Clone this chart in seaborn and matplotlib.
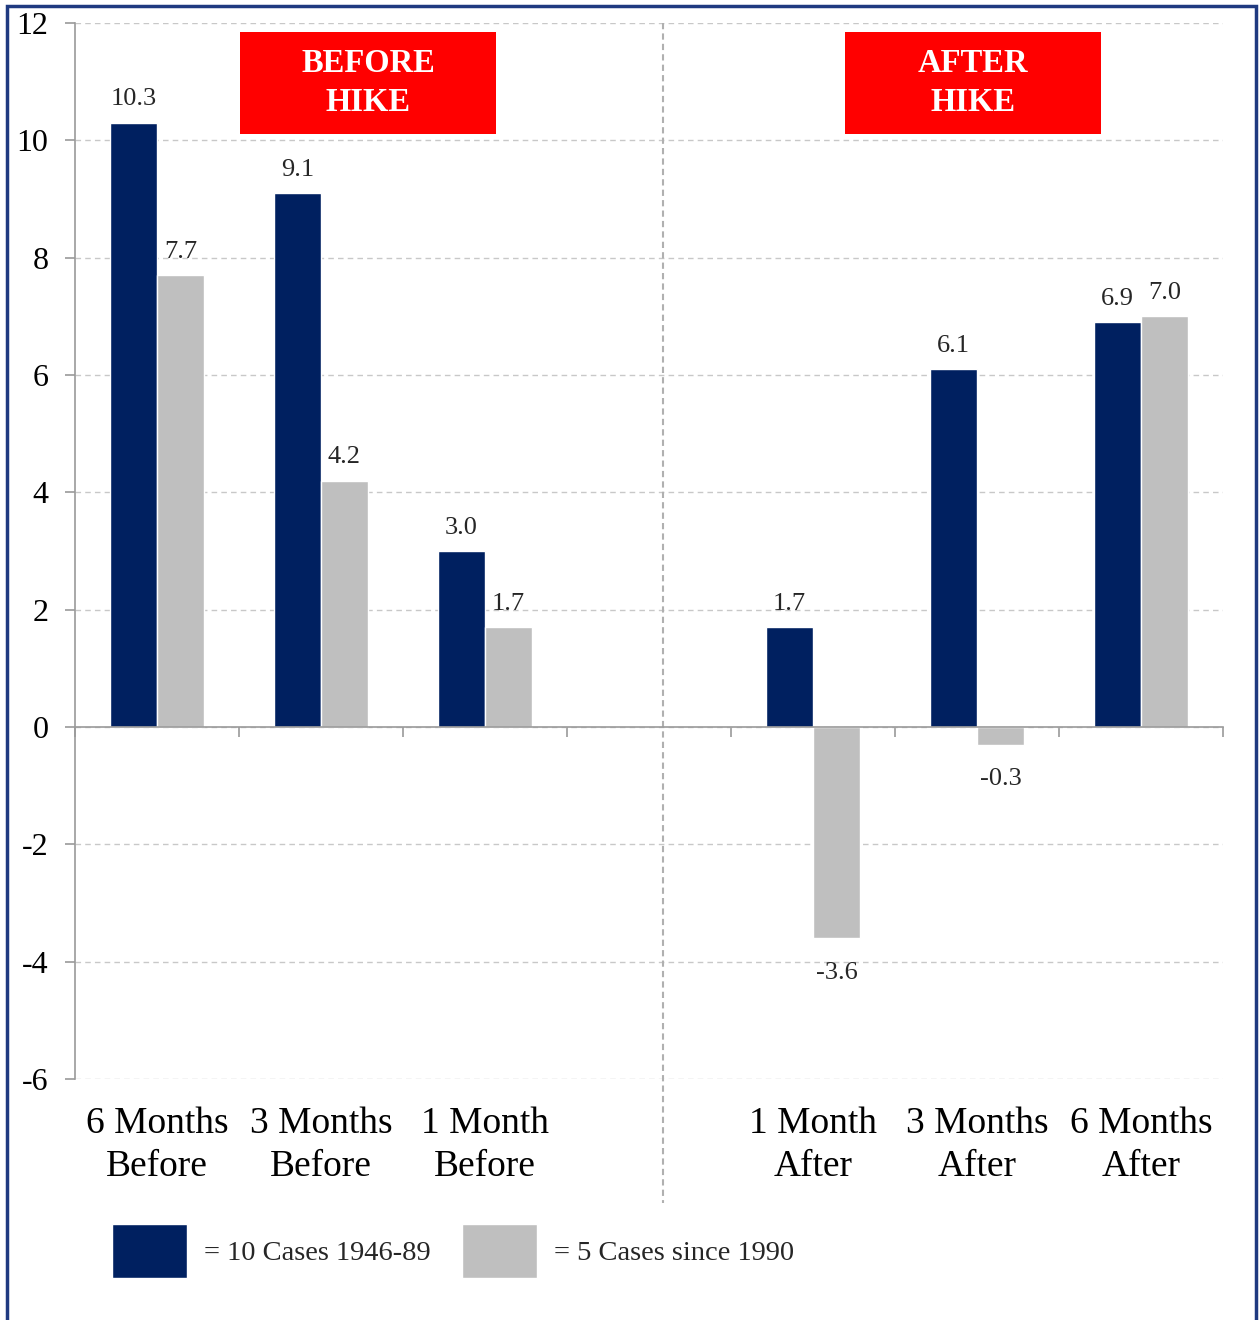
import numpy as np
import pandas as pd
import seaborn as sns
import matplotlib.pyplot as plt
from matplotlib.patches import Rectangle, Patch
from matplotlib.lines import Line2D

# data
categories = ["6 Months\nBefore", "3 Months\nBefore", "1 Month\nBefore", " ",
              "1 Month\nAfter", "3 Months\nAfter", "6 Months\nAfter"]
cases_1946_89 = [10.3, 9.1, 3.0, np.nan, 1.7, 6.1, 6.9]
cases_since_1990 = [7.7, 4.2, 1.7, np.nan, -3.6, -0.3, 7.0]
series_names = ["= 10 Cases 1946-89", "= 5 Cases since 1990"]
y_ticks = [-6, -4, -2, 0, 2, 4, 6, 8, 10, 12]

NAVY = "#002060"
GREY = "#BFBFBF"
RED = "#FF0000"

sns.set_theme(style="white")
plt.rcParams['font.family'] = ['Liberation Serif', 'DejaVu Serif']
plt.rcParams['axes.unicode_minus'] = False

df = pd.DataFrame({
    'period': categories * 2,
    'value': cases_1946_89 + cases_since_1990,
    'series': [series_names[0]] * len(categories) + [series_names[1]] * len(categories),
}).dropna()

fig = plt.figure(figsize=(12.59, 13.20), dpi=100)
W, H = 1259, 1320
ax = fig.add_axes([75 / W, 1 - 1079 / H, (1223 - 75) / W, (1079 - 23) / H])

sns.barplot(data=df, x='period', y='value', hue='series', order=categories,
            hue_order=series_names, palette=[NAVY, GREY], width=0.573,
            saturation=1, ax=ax, legend=False)

# value labels: positives above, negatives a bit further below
for cont in ax.containers:
    vals = cont.datavalues
    pos = [f'{v:.1f}' if v >= 0 else '' for v in vals]
    neg = [f'{v:.1f}' if v < 0 else '' for v in vals]
    ax.bar_label(cont, labels=pos, padding=9, fontsize=19)
    ax.bar_label(cont, labels=neg, padding=17, fontsize=19)

ax.set_xlim(-0.5, len(categories) - 0.5)
ax.set_ylim(-6, 12)
ax.set_yticks(y_ticks)
ax.set_xlabel('')
ax.set_ylabel('')

# grid
ax.yaxis.grid(True, linestyle=(0, (4, 3)), color='#C8C8C8', linewidth=1)
ax.set_axisbelow(True)

# spines
for s in ['top', 'right']:
    ax.spines[s].set_visible(False)
ax.spines['left'].set_color('#9A9A9A')
ax.spines['bottom'].set_color('#9A9A9A')
ax.spines['bottom'].set_position(('data', 0))
ax.spines['left'].set_linewidth(1.2)
ax.spines['bottom'].set_linewidth(1.2)

ax.tick_params(axis='y', which='major', left=True, length=7, width=1.2,
               color='#9A9A9A', pad=12, labelsize=23, labelcolor='black')
ax.set_xticks(range(len(categories)))
ax.set_xticklabels(categories, linespacing=1.33)
ax.set_xticks(np.arange(-0.5, len(categories)), minor=True)
ax.tick_params(axis='x', which='major', length=0, pad=273, labelsize=27,
               labelcolor='black')
ax.tick_params(axis='x', which='minor', bottom=True, length=7, width=1.2,
               color='#9A9A9A')

# divider between before / after
ax.add_line(Line2D([0.512, 0.512], [1.0, -0.117], transform=ax.transAxes,
                   linestyle=(0, (3, 2)), color='#B0B0B0', linewidth=1.5,
                   clip_on=False))

# header boxes
for x0, txt in [(0.1437, 'BEFORE\nHIKE'), (0.6707, 'AFTER\nHIKE')]:
    ax.add_patch(Rectangle((x0, 0.8949), 0.223, 0.0966, transform=ax.transAxes,
                           facecolor=RED, edgecolor='none', zorder=3))
    ax.text(x0 + 0.1115, 0.9432, txt, transform=ax.transAxes, ha='center',
            va='center', color='white', fontsize=23.5, fontweight='bold',
            linespacing=1.3, zorder=4)

# legend
handles = [Patch(facecolor=NAVY), Patch(facecolor=GREY)]
fig.legend(handles, series_names, loc='center left',
           bbox_to_anchor=(112 / W, 1 - 1251 / H), ncol=2, frameon=False,
           fontsize=20.5, handlelength=2.63, handleheight=2.56,
           handletextpad=0.6, columnspacing=1.1, borderpad=0,
           borderaxespad=0)

# outer frame
fig.patches.append(Rectangle((7 / W, -0.01), (1256 - 7) / W, 1 - 6 / H + 0.01,
                             transform=fig.transFigure, fill=False,
                             edgecolor='#1F3A80', linewidth=2.5))

fig.savefig('out.png', dpi=100)
